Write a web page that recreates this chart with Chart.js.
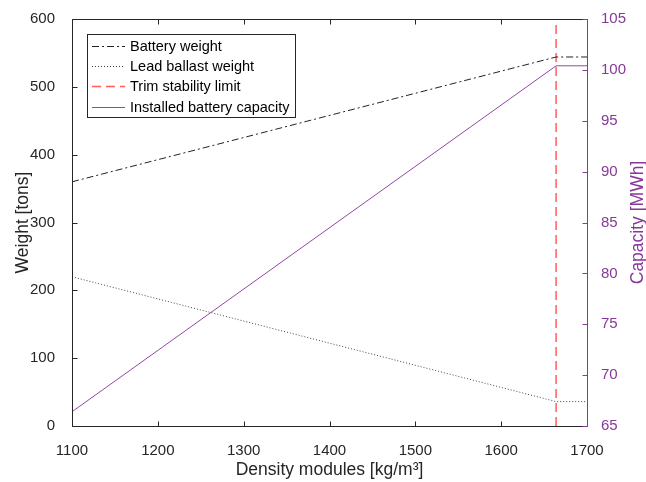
<!DOCTYPE html>
<html>
<head>
<meta charset="utf-8">
<script src="https://cdn.jsdelivr.net/npm/chart.js@4/dist/chart.umd.min.js"></script>
<style>
  html, body { margin: 0; padding: 0; background: #fff; }
  canvas { display: block; }
</style>
</head>
<body>
<canvas id="grafico" width="646" height="482"></canvas>
<script>
// Dados do gráfico
const density = [1100, 1664, 1700];            // kg/m3
const batteryWeight = [360, 544, 544];         // tons
const ballastWeight = [220, 36, 36];           // tons
const capacity = [66.4, 100.4, 100.4];         // MWh
const trimLimit = 1664;                        // kg/m3
const seriesLabels = ['Battery weight', 'Lead ballast weight', 'Trim stability limit', 'Installed battery capacity'];
const capacityTitle = 'Capacity [MWh]';

const FONT = "'Liberation Sans', Arial, Helvetica, sans-serif";
const AXIS = '#262626';
const PURPLE = '#87399a';

const toPoints = (ys) => density.map((x, i) => ({ x: x, y: ys[i] }));

// Caixa do gráfico + ticks para dentro (estilo MATLAB)
const boxPlugin = {
    id: 'boxPlugin',
    afterDatasetsDraw(chart) {
        const { ctx, chartArea: a, scales } = chart;
        const L = Math.round(a.left) + 0.5, R = Math.round(a.right) + 0.5;
        const T = Math.round(a.top) + 0.5, B = Math.round(a.bottom) + 0.5;
        const tl = 5;
        ctx.save();
        ctx.lineWidth = 1;
        ctx.strokeStyle = AXIS;
        ctx.beginPath();
        ctx.moveTo(R, T); ctx.lineTo(L, T); ctx.lineTo(L, B); ctx.lineTo(R, B);
        scales.x.ticks.forEach(t => {
            const px = Math.round(scales.x.getPixelForValue(t.value)) + 0.5;
            ctx.moveTo(px, B); ctx.lineTo(px, B - tl);
            ctx.moveTo(px, T); ctx.lineTo(px, T + tl);
        });
        scales.y.ticks.forEach(t => {
            const py = Math.round(scales.y.getPixelForValue(t.value)) + 0.5;
            ctx.moveTo(L, py); ctx.lineTo(L + tl, py);
        });
        ctx.stroke();
        ctx.strokeStyle = PURPLE;
        ctx.beginPath();
        ctx.moveTo(R, T - 0.5); ctx.lineTo(R, B + 0.5);
        scales.y2.ticks.forEach(t => {
            const py = Math.round(scales.y2.getPixelForValue(t.value)) + 0.5;
            ctx.moveTo(R, py); ctx.lineTo(R - tl, py);
        });
        ctx.stroke();

        // título do eixo direito, lido de baixo para cima
        ctx.fillStyle = PURPLE;
        ctx.font = '17.5px ' + FONT;
        ctx.textAlign = 'center';
        ctx.textBaseline = 'middle';
        ctx.translate(638, (a.top + a.bottom) / 2);
        ctx.rotate(-Math.PI / 2);
        ctx.fillText(capacityTitle, 0, 0);
        ctx.restore();
    }
};

// Legenda dentro da área do gráfico
const legendPlugin = {
    id: 'legendPlugin',
    afterDraw(chart) {
        const { ctx } = chart;
        const x0 = 87.5, y0 = 34.5, w = 208, h = 83;
        ctx.save();
        ctx.fillStyle = '#fff';
        ctx.fillRect(x0, y0, w, h);
        ctx.strokeStyle = AXIS;
        ctx.lineWidth = 1;
        ctx.strokeRect(x0, y0, w, h);
        ctx.font = '14.5px ' + FONT;
        ctx.textBaseline = 'middle';
        chart.data.datasets.forEach((ds, i) => {
            const y = Math.round(46 + i * 20.2) + 0.5;
            ctx.strokeStyle = ds.borderColor;
            ctx.lineWidth = ds.borderWidth;
            ctx.setLineDash(ds.borderDash || []);
            ctx.beginPath();
            ctx.moveTo(92, y); ctx.lineTo(125, y);
            ctx.stroke();
            ctx.setLineDash([]);
            ctx.fillStyle = '#000';
            ctx.fillText(ds.label, 130, y);
        });
        ctx.restore();
    }
};

const chart = new Chart(document.getElementById('grafico').getContext('2d'), {
    type: 'line',
    data: {
        datasets: [
            {
                label: seriesLabels[0],
                data: toPoints(batteryWeight),
                yAxisID: 'y',
                borderColor: '#222',
                borderWidth: 1,
                borderDash: [7, 3, 2, 3]
            },
            {
                label: seriesLabels[1],
                data: toPoints(ballastWeight),
                yAxisID: 'y',
                borderColor: '#444',
                borderWidth: 1,
                borderDash: [1, 2]
            },
            {
                label: seriesLabels[2],
                data: [{ x: trimLimit, y: 0 }, { x: trimLimit, y: 600 }],
                yAxisID: 'y',
                borderColor: '#ff5c5c',
                borderWidth: 1.5,
                borderDash: [9, 5]
            },
            {
                label: seriesLabels[3],
                data: toPoints(capacity),
                yAxisID: 'y2',
                borderColor: '#9347a6',
                borderWidth: 1
            }
        ]
    },
    options: {
        responsive: false,
        animation: false,
        devicePixelRatio: 1,
        layout: { padding: { top: 19, left: 0, right: 0, bottom: 0 } },
        elements: { point: { radius: 0 }, line: { tension: 0 } },
        plugins: { legend: { display: false }, tooltip: { enabled: false } },
        scales: {
            x: {
                type: 'linear',
                min: 1100, max: 1700,
                grid: { display: false },
                border: { display: false },
                ticks: {
                    stepSize: 100, padding: 8, color: AXIS, font: { family: FONT, size: 15 },
                    callback: (v) => String(v)
                },
                title: {
                    display: true, text: 'Density modules [kg/m³]', color: AXIS,
                    font: { family: FONT, size: 17.5, lineHeight: 1 }, padding: { top: 0, bottom: 3 }
                },
                afterFit(s) { s.height = 56; }
            },
            y: {
                position: 'left',
                min: 0, max: 600,
                grid: { display: false },
                border: { display: false },
                ticks: { stepSize: 100, padding: 9, color: AXIS, font: { family: FONT, size: 15 } },
                title: {
                    display: true, text: 'Weight [tons]', color: AXIS,
                    font: { family: FONT, size: 17.5, lineHeight: 1 }, padding: { top: 14, bottom: 0 }
                },
                afterFit(s) { s.width = 72; }
            },
            y2: {
                position: 'right',
                min: 65, max: 105,
                grid: { display: false },
                border: { display: false },
                ticks: { stepSize: 5, padding: 6, color: PURPLE, font: { family: FONT, size: 15 } },
                afterFit(s) { s.width = 59; }
            }
        }
    },
    plugins: [boxPlugin, legendPlugin]
});
</script>
</body>
</html>
